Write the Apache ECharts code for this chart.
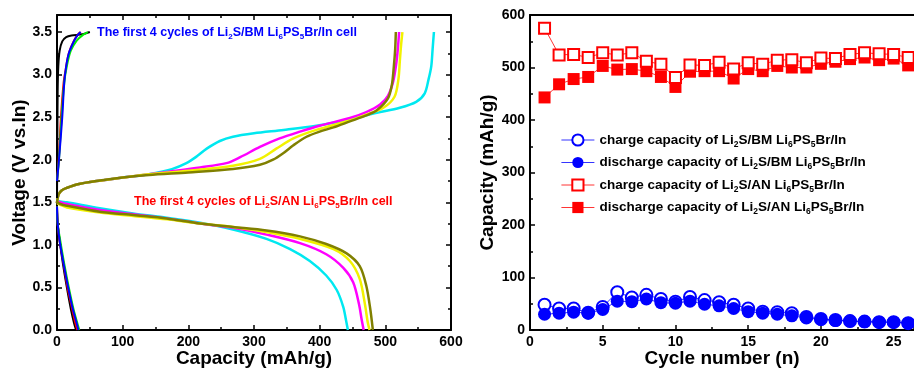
<!DOCTYPE html>
<html>
<head>
<meta charset="utf-8">
<script src="https://cdn.jsdelivr.net/npm/echarts@6/dist/echarts.min.js"></script>
<style>
  html, body { margin: 0; padding: 0; background: #fff; }
  #chart { width: 914px; height: 368px; }
</style>
</head>
<body>
<div id="chart"></div>
<script>
// ---- left panel: voltage profiles, [capacity mAh/g, voltage V] ----
var anCharge1 = [[0,1.49],[1,1.55],[3,1.6],[7,1.64],[15,1.67],[30,1.71],[60,1.75],[100,1.79],[140,1.83],[175,1.89],[197,1.96],[213,2.04],[228,2.13],[248,2.22],[268,2.27],[300,2.31],[345,2.35],[395,2.40],[446,2.47],[461,2.50],[487,2.55],[522,2.61],[547,2.68],[560,2.78],[566,2.95],[570,3.1],[572,3.3],[574,3.5]];
var anCharge2 = [[0,1.49],[1,1.55],[3,1.6],[7,1.64],[15,1.67],[30,1.71],[60,1.75],[100,1.79],[140,1.83],[170,1.86],[218,1.91],[258,1.96],[279,2.03],[309,2.15],[339,2.25],[370,2.33],[400,2.40],[446,2.49],[471,2.56],[492,2.65],[504,2.75],[512,2.92],[517,3.15],[519,3.3],[521,3.5]];
var anCharge3 = [[0,1.49],[1,1.55],[3,1.6],[7,1.64],[15,1.67],[30,1.71],[60,1.75],[100,1.79],[140,1.83],[200,1.87],[268,1.93],[309,2.01],[334,2.13],[360,2.25],[395,2.35],[446,2.46],[471,2.53],[497,2.61],[514,2.74],[520,2.95],[522,3.15],[524,3.35],[526,3.5]];
var anCharge4 = [[0,1.49],[1,1.55],[3,1.6],[7,1.64],[15,1.67],[30,1.71],[60,1.75],[100,1.79],[140,1.82],[200,1.85],[268,1.89],[309,1.94],[329,2.00],[345,2.08],[360,2.17],[380,2.27],[400,2.33],[421,2.38],[446,2.45],[471,2.52],[487,2.58],[504,2.72],[510,2.88],[513,3.1],[515,3.3],[516,3.5]];
var anDis1 = [[0,1.52],[5,1.51],[15,1.50],[65,1.43],[116,1.37],[167,1.32],[218,1.26],[268,1.18],[319,1.07],[355,0.95],[385,0.81],[410,0.64],[426,0.47],[436,0.27],[440,0.12],[443,0]];
var anDis2 = [[0,1.51],[5,1.50],[15,1.48],[65,1.41],[116,1.36],[167,1.31],[218,1.25],[268,1.20],[319,1.12],[370,1.02],[410,0.89],[436,0.73],[451,0.56],[460,0.30],[464,0.12],[467,0]];
var anDis3 = [[0,1.49],[5,1.47],[15,1.44],[65,1.38],[116,1.34],[167,1.30],[218,1.25],[268,1.21],[319,1.15],[370,1.07],[421,0.95],[446,0.81],[461,0.60],[469,0.30],[473,0.10],[476,0]];
var anDis4 = [[0,1.50],[5,1.48],[15,1.46],[65,1.39],[116,1.35],[167,1.31],[218,1.25],[268,1.21],[319,1.17],[370,1.10],[410,1.01],[441,0.90],[461,0.75],[471,0.52],[477,0.25],[481,0]];

var bmCharge1 = [[0,1.55],[0.5,2.2],[1,2.8],[2,3.1],[4,3.28],[8,3.39],[14,3.44],[22,3.46],[35,3.47],[42,3.48],[50,3.5]];
var bmCharge2 = [[0,1.75],[3,2.05],[6,2.5],[10,2.9],[13,3.05],[18,3.25],[26,3.4],[33,3.48],[36,3.5]];
var bmCharge3 = [[0,1.75],[3,2.0],[7,2.5],[11,2.9],[15,3.1],[21,3.28],[30,3.4],[40,3.47],[47,3.5]];
var bmCharge4 = [[0,1.75],[3,2.0],[8,2.5],[11,2.9],[14,3.1],[18,3.25],[25,3.38],[31,3.46],[36,3.5]];
var bmDis1 = [[0,1.45],[1,1.25],[4,1.05],[9,0.78],[15,0.5],[21,0.25],[26,0.08],[29,0]];
var bmDis2 = [[0,1.45],[1,1.25],[4,1.05],[10,0.78],[16,0.5],[23,0.25],[28,0.08],[31,0]];
var bmDis3 = [[0,1.45],[1,1.25],[5,1.05],[11,0.78],[18,0.5],[25,0.25],[31,0.08],[34,0]];
var bmDis4 = [[0,1.45],[1,1.25],[4,1.05],[10,0.78],[17,0.5],[24,0.25],[30,0.08],[32.5,0]];

// ---- right panel: capacity vs cycle ----
var cycles = [1,2,3,4,5,6,7,8,9,10,11,12,13,14,15,16,17,18,19,20,21,22,23,24,25,26];
var bmChargeCap = [48,41,41,33,44,72,62,67,59,54,63,57,53,48,41,35,34,32,25,21,19,17,16,15,15,13];
var bmDischargeCap = [30,32,34,32,39,55,54,59,52,51,55,49,46,41,35,32,30,27,23,20,18,17,16,15,15,13];
var anChargeCap = [575,524,525,519,528,524,528,512,506,481,505,504,510,497,509,506,514,515,509,518,517,525,528,526,525,519];
var anDischargeCap = [443,468,478,482,503,496,497,493,482,463,492,493,493,479,497,493,503,500,500,507,511,516,519,514,517,504];

var legendNames = [
  'charge capacity of Li2S/BM Li6PS5Br/In',
  'discharge capacity of Li2S/BM Li6PS5Br/In',
  'charge capacity of Li2S/AN Li6PS5Br/In',
  'discharge capacity of Li2S/AN Li6PS5Br/In'
];

var FONT = 'Liberation Sans, Arial, sans-serif';

function subs(t) {
  return t.replace('Li2S', 'Li{s|2}S').replace('Li6PS5', 'Li{s|6}PS{s|5}');
}
function pairs(xs, ys) {
  return xs.map(function (x, i) { return [x, ys[i]]; });
}

function axisBase(extra) {
  var a = {
    type: 'value',
    axisLine: { show: true, onZero: false, lineStyle: { color: '#000', width: 2 } },
    axisTick: { show: true, inside: true, length: 5, lineStyle: { color: '#000', width: 1.5 } },
    minorTick: { show: true, splitNumber: 2, length: 3, lineStyle: { color: '#000', width: 1.5 } },
    splitLine: { show: false },
    axisLabel: { color: '#000', fontSize: 14, fontWeight: 'bold', fontFamily: FONT, margin: 5 },
    nameTextStyle: { color: '#000', fontSize: 19, fontWeight: 'bold', fontFamily: FONT },
    nameLocation: 'middle',
    nameMoveOverlap: false
  };
  for (var k in extra) a[k] = extra[k];
  return a;
}

function vLine(name, data, color, w) {
  return {
    name: name, type: 'line', data: data, xAxisIndex: 0, yAxisIndex: 0,
    showSymbol: false, smooth: 0.3, color: color,
    lineStyle: { color: color, width: w }, silent: true
  };
}

function noteStyle(color) {
  return {
    color: color, fontSize: 12.5, fontWeight: 'bold', fontFamily: FONT, lineHeight: 16,
    rich: { s: { color: color, fontSize: 8, fontWeight: 'bold', fontFamily: FONT, lineHeight: 7, verticalAlign: 'bottom' } }
  };
}

var option = {
  backgroundColor: '#fff',
  animation: false,
  title: [
    { text: subs('The first 4 cycles of Li2S/BM Li6PS5Br/In cell'), left: 97, top: 25, padding: 0, textStyle: noteStyle('#0000ff') },
    { text: subs('The first 4 cycles of Li2S/AN Li6PS5Br/In cell'), left: 134, top: 194, padding: 0, textStyle: noteStyle('#ff0000') }
  ],
  legend: {
    data: legendNames,
    orient: 'vertical',
    left: 556, top: 126,
    itemWidth: 33, itemHeight: 14, itemGap: 4.5,
    lineStyle: { width: 0.8 },
    formatter: function (n) { return subs(n); },
    textStyle: { color: '#000', fontSize: 13.5, fontWeight: 'bold', fontFamily: FONT, lineHeight: 18,
      rich: { s: { color: '#000', fontSize: 8.5, fontWeight: 'bold', fontFamily: FONT, lineHeight: 8, verticalAlign: 'bottom' } } }
  },
  grid: [
    { left: 57, top: 15, width: 394, height: 315, outerBoundsMode: 'none' },
    { left: 530, top: 15, width: 384, height: 315, outerBoundsMode: 'none' }
  ],
  xAxis: [
    axisBase({ gridIndex: 0, min: 0, max: 600, interval: 100, name: 'Capacity (mAh/g)', nameGap: 19 }),
    axisBase({ gridIndex: 0, min: 0, max: 600, interval: 100, position: 'top', axisLabel: { show: false } }),
    axisBase({ gridIndex: 1, min: 0, max: 26.4, interval: 5, name: 'Cycle number (n)', nameGap: 19,
      axisLabel: { color: '#000', fontSize: 14, fontWeight: 'bold', fontFamily: FONT, margin: 5, showMaxLabel: false } }),
    axisBase({ gridIndex: 1, min: 0, max: 26.4, interval: 5, position: 'top',
      axisTick: { show: false }, minorTick: { show: false }, axisLabel: { show: false } })
  ],
  yAxis: [
    axisBase({ gridIndex: 0, min: 0, max: 3.7, interval: 0.5, name: 'Voltage (V vs.In)', nameGap: 28,
      axisLabel: { color: '#000', fontSize: 14, fontWeight: 'bold', fontFamily: FONT, margin: 5, showMaxLabel: false,
        formatter: function (v) { return v.toFixed(1); } } }),
    axisBase({ gridIndex: 0, min: 0, max: 3.7, interval: 0.5, position: 'right', axisLabel: { show: false } }),
    axisBase({ gridIndex: 1, min: 0, max: 600, interval: 100, name: 'Capacity (mAh/g)', nameGap: 33 })
  ],
  series: [
    vLine('an1c', anCharge1, '#00e8f0', 2.5),
    vLine('an1d', anDis1, '#00e8f0', 2.5),
    vLine('an2c', anCharge2, '#ff00ff', 2.5),
    vLine('an2d', anDis2, '#ff00ff', 2.5),
    vLine('an3c', anCharge3, '#f2f200', 2.5),
    vLine('an3d', anDis3, '#f2f200', 2.5),
    vLine('an4c', anCharge4, '#808000', 2.5),
    vLine('an4d', anDis4, '#808000', 2.5),
    vLine('bm1c', bmCharge1, '#000000', 2),
    vLine('bm1d', bmDis1, '#000000', 2),
    vLine('bm2c', bmCharge2, '#ff0000', 2),
    vLine('bm2d', bmDis2, '#ff0000', 2),
    vLine('bm3c', bmCharge3, '#00ee00', 2),
    vLine('bm3d', bmDis3, '#00ee00', 2),
    vLine('bm4c', bmCharge4, '#0000ff', 2),
    vLine('bm4d', bmDis4, '#0000ff', 2),
    {
      name: legendNames[3], type: 'line', xAxisIndex: 2, yAxisIndex: 2,
      data: pairs(cycles, anDischargeCap), symbol: 'rect', symbolSize: 12,
      color: '#ff0000', itemStyle: { color: '#ff0000' }, lineStyle: { color: '#ff0000', width: 0.8 }
    },
    {
      name: legendNames[2], type: 'line', xAxisIndex: 2, yAxisIndex: 2,
      data: pairs(cycles, anChargeCap), symbol: 'emptyRect', symbolSize: 11,
      color: '#ff0000', itemStyle: { color: '#ff0000', borderWidth: 1.5 }, lineStyle: { color: '#ff0000', width: 0.8 }
    },
    {
      name: legendNames[0], type: 'line', xAxisIndex: 2, yAxisIndex: 2,
      data: pairs(cycles, bmChargeCap), symbol: 'emptyCircle', symbolSize: 12,
      color: '#0000ff', itemStyle: { color: '#0000ff', borderWidth: 1.5 }, lineStyle: { color: '#0000ff', width: 0.8 }
    },
    {
      name: legendNames[1], type: 'line', xAxisIndex: 2, yAxisIndex: 2,
      data: pairs(cycles, bmDischargeCap), symbol: 'circle', symbolSize: 13,
      color: '#0000ff', itemStyle: { color: '#0000ff' }, lineStyle: { color: '#0000ff', width: 0.8 }
    }
  ]
};

var chart = echarts.init(document.getElementById('chart'));
chart.setOption(option);
</script>
</body>
</html>
